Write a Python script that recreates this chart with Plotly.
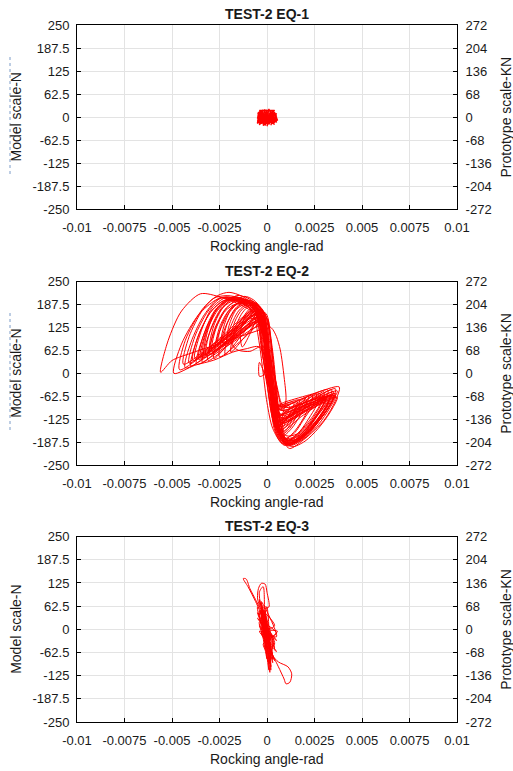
import plotly.graph_objects as go

# ---------------- data ----------------
x_ticks = [-0.01, -0.0075, -0.005, -0.0025, 0, 0.0025, 0.005, 0.0075, 0.01]
x_tick_labels = ["-0.01", "-0.0075", "-0.005", "-0.0025", "0", "0.0025", "0.005", "0.0075", "0.01"]
left_ticks = [250, 187.5, 125, 62.5, 0, -62.5, -125, -187.5, -250]
left_tick_labels = ["250", "187.5", "125", "62.5", "0", "-62.5", "-125", "-187.5", "-250"]
right_ticks = [272, 204, 136, 68, 0, -68, -136, -204, -272]
right_tick_labels = ["272", "204", "136", "68", "0", "-68", "-136", "-204", "-272"]
panel_titles = ["TEST-2 EQ-1", "TEST-2 EQ-2", "TEST-2 EQ-3"]

# EQ-1: small dense cloud around the origin (rocking angle-rad, model scale-N)
eq1 = [(-0.0004, 5), (-0.0003, 18), (-0.0005, -10), (-0.0002, 20), (-0.0004, -22), (-0.0001, 21),
       (-0.0003, -18), (0.0000, 20), (-0.0002, -24), (0.0001, 19), (-0.0001, -22), (0.0002, 18),
       (0.0000, -25), (0.0003, 17), (0.0001, -20), (0.0004, 14), (0.0002, -22), (0.0005, 10),
       (0.0003, -18), (0.00055, -8), (0.0004, 12), (0.0005, -15), (0.0002, 16), (-0.0001, -23),
       (-0.0004, 15), (-0.0005, -5), (-0.00045, 12), (-0.0002, -20), (0.0001, 22), (0.0004, -12),
       (0.0003, 15), (0.0000, -18), (-0.0003, 12), (-0.0005, -18), (-0.0002, 8), (0.0002, -10),
       (0.0005, 5), (0.0002, 8), (-0.0002, -8), (-0.00045, 0), (-0.0005, -15), (0.0005, -12),
       (-0.0005, 10), (0.0005, 8), (-0.0004, -20), (0.0004, 18), (-0.0004, 18), (0.0004, -20),
       (-0.0003, 0), (0.0003, 3), (-0.0001, 14), (0.0001, -14), (0.00052, 2)]

# EQ-2: hysteresis cycles
eq2 = [
    # cycle 1
    (-0.0003, 120), (-0.0020, 90), (-0.0040, 55), (-0.0050, 35), (-0.0056, 3), (-0.0052, 90),
    (-0.0045, 170), (-0.0035, 217), (-0.0024, 207), (-0.0012, 182), (-0.0004, 150), (-0.0001, 70),
    (0.0002, -40), (0.0005, -130), (0.0009, -190), (0.0012, -205), (0.0020, -178), (0.0030, -128),
    (0.0036, -75), (0.0038, -37), (0.0024, -56), (0.0010, -77), (0.0005, -85), (0.0002, -10),
    # cycle 2
    (-0.0004, 72), (-0.0011, 67), (-0.0018, 58), (-0.0028, 36), (-0.0038, 22), (-0.0049, 0),
    (-0.0045, 80), (-0.0036, 160), (-0.0027, 200), (-0.0021, 209), (-0.0013, 195), (-0.0006, 170),
    (-0.0002, 120), (0.0001, 10), (0.0003, -90), (0.0006, -160), (0.0011, -198), (0.0019, -172),
    (0.0028, -125), (0.0034, -78), (0.0036, -42), (0.0020, -80), (0.0005, -115), (0.0000, 30),
    # cycle 3
    (-0.0004, 160), (-0.0025, 85), (-0.0046, 10), (-0.0043, 90), (-0.0034, 175), (-0.0026, 212),
    (-0.0020, 221), (-0.0013, 210), (-0.0007, 185), (-0.0003, 140), (-0.0001, 60), (0.0002, -50),
    (0.0004, -140), (0.0010, -195), (0.0018, -170), (0.0026, -128), (0.0032, -80), (0.0034, -45),
    (0.0019, -90), (0.0005, -130), (0.0001, 40),
    # cycle 4
    (-0.0003, 140), (-0.0023, 75), (-0.0043, 15), (-0.0040, 85), (-0.0033, 160), (-0.0025, 205),
    (-0.0017, 198), (-0.0009, 178), (-0.0005, 150), (0.0000, 50), (0.0003, -60), (0.0006, -150),
    (0.0012, -190), (0.0019, -160), (0.0026, -115), (0.0031, -72), (0.0032, -45), (0.0018, -70),
    (0.0005, -95), (0.0001, -20),
    # cycle 5
    (-0.0005, 170), (-0.0022, 95), (-0.0040, 20), (-0.0037, 90), (-0.0030, 165), (-0.0022, 200),
    (-0.0015, 196), (-0.0008, 175), (-0.0003, 145), (0.0000, 80), (0.0002, -30), (0.0005, -120),
    (0.0007, -170), (0.0009, -188), (0.0016, -165), (0.0024, -118), (0.0029, -75), (0.0030, -50),
    (0.0017, -95), (0.0005, -140), (0.0002, -50),
    # cycle 6
    (-0.0002, 130), (-0.0020, 78), (-0.0037, 25), (-0.0034, 95), (-0.0027, 170), (-0.0018, 205),
    (-0.0011, 200), (-0.0005, 175), (-0.0002, 130), (0.0001, 20), (0.0003, -80), (0.0006, -155),
    (0.0011, -185), (0.0017, -160), (0.0023, -115), (0.0027, -78), (0.0028, -55), (0.0016, -85),
    (0.0005, -115), (0.0002, -30),
    # cycle 7
    (-0.0004, 165), (-0.0019, 98), (-0.0034, 30), (-0.0031, 100), (-0.0024, 175), (-0.0016, 212),
    (-0.0010, 205), (-0.0004, 180), (-0.0001, 120), (0.0001, 0), (0.0004, -100), (0.0007, -165),
    (0.0008, -180), (0.0014, -165), (0.0020, -120), (0.0025, -80), (0.0026, -55), (0.0015, -100),
    (0.0005, -145), (0.0001, 0),
    # cycle 8
    (-0.0003, 150), (-0.0017, 92), (-0.0031, 35), (-0.0028, 110), (-0.0021, 180), (-0.0012, 210),
    (-0.0007, 200), (-0.0003, 175), (0.0000, 100), (0.0002, -20), (0.0004, -110), (0.0007, -160),
    (0.0010, -178), (0.0015, -155), (0.0020, -115), (0.0023, -80), (0.0024, -60), (0.0014, -80),
    (0.0005, -100), (0.0000, 20),
    # cycle 9
    (-0.0005, 175), (-0.0016, 108), (-0.0028, 40), (-0.0026, 100), (-0.0020, 165), (-0.0014, 195),
    (-0.0008, 192), (-0.0004, 170), (-0.0001, 110), (0.0002, 0), (0.0004, -90), (0.0006, -150),
    (0.0008, -172), (0.0013, -150), (0.0018, -110), (0.0021, -80), (0.0022, -62), (0.0013, -105),
    (0.0005, -150), (-0.0001, 30),
    # cycle 10
    (-0.0002, 140), (-0.0013, 92), (-0.0025, 45), (-0.0023, 110), (-0.0017, 175), (-0.0011, 200),
    (-0.0006, 192), (-0.0002, 165), (0.0001, 80), (0.0003, -40), (0.0005, -120), (0.0007, -168),
    (0.0012, -150), (0.0016, -110), (0.0019, -82), (0.0020, -68), (0.0012, -95), (0.0005, -120),
    (0.0002, -40),
    # cycle 11
    (-0.0004, 160), (-0.0013, 106), (-0.0022, 52), (-0.0020, 115), (-0.0015, 170), (-0.0010, 190),
    (-0.0005, 182), (-0.0002, 150), (0.0000, 60), (0.0002, -50), (0.0004, -130), (0.0006, -160),
    (0.0010, -145), (0.0014, -105), (0.0017, -80), (0.0017, -72), (0.0011, -80), (0.0005, -88),
    (0.0001, -10),
    # cycle 12
    (-0.0003, 150), (-0.0011, 104), (-0.0019, 58), (-0.0017, 120), (-0.0013, 165), (-0.0009, 185),
    (-0.0005, 180), (-0.0002, 150), (0.0001, 40), (0.0003, -70), (0.0005, -150), (0.0008, -150),
    (0.0011, -118), (0.0014, -90), (0.0014, -78), (0.0009, -84), (0.0004, -88), (0.0001, 0),
    # cycle 13
    (-0.0003, 72), (-0.0009, 60), (-0.0015, 63), (-0.0018, 75), (-0.0016, 120), (-0.0011, 165),
    (-0.0008, 180), (-0.0004, 172), (-0.0001, 140), (0.0003, 120), (0.0005, 100), (0.0007, 64),
    (0.0009, -10), (0.0010, -73), (0.0008, -120), (0.0009, -160), (0.0012, -140), (0.0015, -95),
    (0.0016, -78), (0.0011, -85), (0.0005, -90), (0.0002, -40),
    # cycle 14
    (-0.0004, 165), (-0.0008, 118), (-0.0013, 72), (-0.0014, 110), (-0.0011, 160), (-0.0007, 178),
    (-0.0004, 170), (-0.0001, 130), (0.0001, 30), (0.0003, -80), (0.0004, -135), (0.0006, -145),
    (0.0009, -120), (0.0012, -95), (0.0011, -86), (0.0006, -92), (0.0003, -60), (-0.0004, 30),
    (-0.0004, -8), (-0.0002, -5), (0.0000, 50),
    # cycle 15
    (-0.0006, 175), (-0.0021, 106), (-0.0036, 38), (-0.0033, 110), (-0.0027, 175), (-0.0020, 200),
    (-0.0013, 194), (-0.0006, 172), (-0.0002, 130), (0.0001, 30), (0.0003, -70), (0.0006, -140),
    (0.0010, -182), (0.0017, -168), (0.0025, -125), (0.0031, -85), (0.0035, -50), (0.0020, -90),
    (0.0006, -125), (0.0000, 20),
    # cycle 16
    (-0.0003, 145), (-0.0018, 96), (-0.0032, 48), (-0.0030, 115), (-0.0024, 178), (-0.0017, 203),
    (-0.0010, 196), (-0.0004, 168), (-0.0001, 100), (0.0002, -10), (0.0004, -100), (0.0007, -160),
    (0.0011, -192), (0.0018, -175), (0.0026, -135), (0.0033, -88), (0.0036, -55), (0.0021, -85),
    (0.0006, -110), (0.0001, -20),
    # cycle 17
    (-0.0005, 150), (-0.0022, 92), (-0.0039, 35), (-0.0036, 105), (-0.0029, 172), (-0.0023, 198),
    (-0.0016, 202), (-0.0008, 185), (-0.0003, 155), (0.0000, 70), (0.0002, -40), (0.0005, -130),
    (0.0008, -180), (0.0013, -196), (0.0021, -170), (0.0029, -118), (0.0035, -70), (0.0037, -48),
    (0.0022, -75), (0.0007, -100), (0.0001, 10),
    # cycle 18
    (-0.0004, 168), (-0.0016, 114), (-0.0029, 60), (-0.0027, 120), (-0.0022, 170), (-0.0016, 190),
    (-0.0009, 188), (-0.0004, 165), (-0.0001, 90), (0.0002, -20), (0.0005, -110), (0.0008, -165),
    (0.0012, -185), (0.0019, -168), (0.0026, -130), (0.0031, -92), (0.0033, -62), (0.0019, -100),
    (0.0006, -140), (0.0000, 0),
    # cycle 19
    (-0.0006, 160), (-0.0019, 105), (-0.0033, 50), (-0.0031, 120), (-0.0026, 180), (-0.0019, 207),
    (-0.0013, 205), (-0.0007, 188), (-0.0003, 160), (0.0000, 90), (0.0002, -10), (0.0004, -100),
    (0.0006, -160), (0.0010, -188), (0.0016, -180), (0.0023, -148), (0.0030, -105), (0.0034, -72),
    (0.0035, -58), (0.0020, -95), (0.0006, -130), (0.0000, 10),
    # cycle 20
    (-0.0003, 155), (-0.0015, 110), (-0.0027, 65), (-0.0025, 125), (-0.0020, 172), (-0.0014, 192),
    (-0.0008, 190), (-0.0004, 172), (-0.0001, 120), (0.0001, 20), (0.0003, -80), (0.0006, -150),
    (0.0009, -178), (0.0015, -172), (0.0022, -140), (0.0028, -98), (0.0031, -68), (0.0018, -110),
    (0.0006, -155), (0.0000, 40),
    # cycle 21
    (-0.0005, 172), (-0.0014, 126), (-0.0023, 80), (-0.0021, 135), (-0.0016, 178), (-0.0011, 195),
    (-0.0006, 190), (-0.0002, 160), (0.0000, 80), (0.0002, -30), (0.0004, -115), (0.0007, -170),
    (0.0013, -200), (0.0020, -185), (0.0027, -150), (0.0033, -108), (0.0037, -65), (0.0022, -100),
    (0.0007, -135), (0.0000, 30),
    # cycle 22
    (-0.0004, 165), (-0.0011, 128), (-0.0019, 90), (-0.0017, 140), (-0.0013, 175), (-0.0008, 188),
    (-0.0004, 180), (-0.0001, 150), (0.0001, 60), (0.0003, -50), (0.0005, -130), (0.0008, -180),
    (0.0012, -190), (0.0018, -180), (0.0024, -150), (0.0029, -110), (0.0032, -80), (0.0029, -68),
    (0.0018, -100), (0.0006, -120), (0.0002, -20), (-0.0002, 100),
    # cycle 23
    (-0.0007, 170), (-0.0024, 100), (-0.0041, 28), (-0.0038, 100), (-0.0031, 170), (-0.0024, 206),
    (-0.0016, 200), (-0.0010, 182), (-0.0007, 160), (-0.0004, 80), (-0.0002, 0), (0.0000, -80),
    (0.0003, -150), (0.0008, -190), (0.0015, -185), (0.0023, -150), (0.0030, -100), (0.0034, -60),
    (0.0020, -88), (0.0008, -115), (0.0003, -60), (0.0000, 20),
    # cycle 24
    (0.0000, 150), (-0.0016, 100), (-0.0030, 52), (-0.0028, 115), (-0.0022, 175), (-0.0015, 200),
    (-0.0009, 195), (-0.0004, 180), (0.0000, 150), (0.0003, 60), (0.0005, -40), (0.0007, -130),
    (0.0010, -180), (0.0017, -178), (0.0025, -140), (0.0031, -95), (0.0033, -70), (0.0020, -92),
    (0.0008, -125), (0.0004, -40), (0.0001, 60),
    # cycle 25
    (-0.0006, 160), (-0.0020, 110), (-0.0035, 45), (-0.0032, 115), (-0.0026, 178), (-0.0018, 208),
    (-0.0011, 200), (-0.0006, 180), (-0.0004, 140), (-0.0002, 60), (0.0001, -30), (0.0003, -120),
    (0.0006, -175), (0.0011, -195), (0.0019, -180), (0.0027, -140), (0.0033, -95), (0.0036, -62),
    (0.0022, -82), (0.0009, -105), (0.0006, -60), (0.0003, 30),
    # cycle 26
    (-0.0001, 165), (-0.0014, 118), (-0.0026, 72), (-0.0024, 130), (-0.0019, 178), (-0.0013, 196),
    (-0.0007, 190), (-0.0002, 170), (0.0001, 120), (0.0003, 40), (0.0005, -60), (0.0007, -140),
    (0.0010, -170), (0.0016, -165), (0.0023, -130), (0.0028, -90), (0.0030, -64), (0.0018, -84),
    (0.0007, -100), (0.0004, -20), (0.0000, 80),
    # cycle 27
    (-0.0007, 150), (-0.0028, 80), (-0.0044, 25), (-0.0041, 100), (-0.0034, 172), (-0.0028, 205),
    (-0.0021, 212), (-0.0014, 205), (-0.0008, 185), (-0.0005, 150), (-0.0003, 70), (0.0000, -20),
    (0.0002, -100), (0.0005, -160), (0.0009, -196), (0.0016, -185), (0.0024, -150), (0.0031, -105),
    (0.0035, -66), (0.0021, -98), (0.0008, -130), (0.0004, -60), (0.0001, 50),
    # cycle 28
    (-0.0005, 178), (-0.0017, 120), (-0.0030, 68), (-0.0028, 130), (-0.0023, 180), (-0.0017, 200),
    (-0.0011, 196), (-0.0005, 178), (-0.0002, 130), (0.0001, 40), (0.0004, -60), (0.0006, -140),
    (0.0009, -180), (0.0014, -183), (0.0021, -155), (0.0027, -112), (0.0031, -78), (0.0017, -112),
    (0.0007, -145), (0.0002, -60), (-0.0002, 40),
    # cycle 29
    (-0.0006, 140), (-0.0020, 92), (-0.0034, 42), (-0.0032, 110), (-0.0026, 172), (-0.0019, 202),
    (-0.0012, 198), (-0.0006, 176), (-0.0003, 130), (0.0000, 30), (0.0003, -70), (0.0005, -150),
    (0.0008, -186), (0.0014, -190), (0.0022, -162), (0.0029, -118), (0.0034, -80), (0.0035, -60),
    (0.0022, -76), (0.0009, -92), (0.0005, -30), (0.0001, 60),
    # cycle 30
    (-0.0003, 170), (-0.0015, 125), (-0.0024, 88), (-0.0022, 140), (-0.0018, 182), (-0.0012, 200),
    (-0.0006, 192), (-0.0002, 168), (0.0001, 100), (0.0003, 0), (0.0005, -90), (0.0007, -155),
    (0.0010, -185), (0.0016, -178), (0.0023, -140), (0.0028, -100), (0.0030, -78), (0.0018, -118),
    (0.0007, -160), (0.0003, -80), (0.0000, 40),
    # cycle 31
    (-0.0006, 168), (-0.0023, 100), (-0.0038, 40), (-0.0035, 110), (-0.0029, 178), (-0.0022, 206),
    (-0.0015, 204), (-0.0009, 188), (-0.0005, 160), (-0.0003, 90), (-0.0001, 0), (0.0002, -90),
    (0.0004, -155), (0.0008, -192), (0.0015, -188), (0.0023, -155), (0.0030, -112), (0.0034, -78),
    (0.0036, -60), (0.0022, -90), (0.0008, -122), (0.0004, -40), (0.0000, 60),
    # cycle 32
    (-0.0002, 155), (-0.0012, 115), (-0.0021, 80), (-0.0020, 130), (-0.0016, 175), (-0.0010, 192),
    (-0.0005, 188), (-0.0001, 162), (0.0002, 90), (0.0004, -10), (0.0006, -100), (0.0008, -160),
    (0.0011, -182), (0.0017, -170), (0.0024, -132), (0.0029, -92), (0.0031, -72), (0.0019, -104),
    (0.0008, -135), (0.0003, -50), (-0.0001, 50),
]

# EQ-3: two excursion loops and a dense core
eq3 = [(-0.0003, 40), (-0.0006, 75), (-0.0010, 115), (-0.00125, 137), (-0.0011, 136), (-0.0009, 110),
       (-0.0006, 80), (-0.0004, 60), (-0.0005, 85), (-0.00045, 110), (-0.0003, 124), (-0.0001, 122),
       (0.0000, 100), (0.0001, 60), (-0.0002, 60), (0.0001, -40), (-0.0003, 40), (0.0002, -60),
       (-0.0001, 50), (0.0003, -90), (-0.0002, 20), (0.0001, -110), (0.0000, -20), (-0.0003, 70),
       (0.0002, -30), (-0.0004, 50), (0.0000, -80), (-0.0002, 30), (0.0003, -70), (-0.0001, 10),
       (0.00015, -116), (0.0001, -60), (-0.0003, 60), (0.0001, 0), (0.00055, -5), (0.0002, -20),
       (-0.0002, 40), (0.0002, -100), (0.0001, -40), (-0.0004, 100), (-0.0002, 115), (-0.0001, 30),
       (0.0003, -70), (0.0006, -88), (0.0011, -101), (0.0013, -120), (0.0012, -143), (0.0010, -147),
       (0.0009, -134), (0.0006, -101), (0.0004, -80), (0.0002, -60), (-0.0003, 50), (0.0000, -50),
       (0.0004, -40), (-0.0001, 20), (-0.0004, 80), (0.0001, -90), (0.0003, -20), (-0.0002, 0),
       (0.0000, 60), (0.0002, -110), (0.0000, -10), (-0.0005, 30), (0.0005, -30), (-0.0004, 10),
       (0.0005, -60), (-0.0003, -10), (0.0004, 10), (-0.0005, 60), (0.0003, -80), (-0.0002, -40),
       (0.0005, -10), (-0.0004, 20), (0.0002, -70), (-0.0001, 40), (0.0004, -50), (-0.0003, 50),
       (0.0002, -100), (-0.0002, 0), (0.0004, -85), (-0.0005, 45), (0.0003, -45), (-0.0004, -5),
       (0.0005, -20), (-0.0003, 75), (0.0001, -20), (-0.0001, 0)]

series = [eq1, eq2, eq3]

# ---------------- layout constants ----------------
W, H = 513, 771
ML, MR, MT, MB = 77, 56, 25, 49
PH = H - MT - MB
domains = [[0.736, 1.0], [0.3687, 0.6317], [0.0, 0.2659]]

FONT = "Liberation Sans, Arial, sans-serif"
TXT = "#1a1a1a"
GRID = "#e3e3e3"

fig = go.Figure()

for i, pts in enumerate(series):
    xs = [p[0] for p in pts]
    ys = [p[1] for p in pts]
    xa = "x" if i == 0 else f"x{i+1}"
    ya = "y" if i == 0 else f"y{i+1}"
    shape = "linear" if i == 0 else "spline"
    fig.add_trace(go.Scatter(x=xs, y=ys, mode="lines", xaxis=xa, yaxis=ya,
                             line=dict(color="#ff0000", width=1.3 if i == 0 else 1.0,
                                       shape=shape, smoothing=0.8),
                             showlegend=False, hoverinfo="skip"))
    # right-hand axis (prototype scale) registration
    fig.add_trace(go.Scatter(x=[None], y=[None], mode="lines", xaxis=xa, yaxis=f"y{i+4}",
                             showlegend=False, hoverinfo="skip"))

common_axis = dict(showline=True, linecolor="black", linewidth=1, ticks="inside", ticklen=4,
                   tickcolor="black", zeroline=False,
                   tickfont=dict(family=FONT, size=13, color=TXT))

layout = dict(width=W, height=H, margin=dict(l=ML, r=MR, t=MT, b=MB),
              paper_bgcolor="white", plot_bgcolor="white", showlegend=False,
              annotations=[], shapes=[])

for i in range(3):
    sfx = "" if i == 0 else str(i + 1)
    layout[f"xaxis{sfx}"] = dict(common_axis, domain=[0, 1], anchor=f"y{sfx}", range=[-0.01, 0.01],
                                 tickvals=x_ticks, ticktext=x_tick_labels, showgrid=True,
                                 gridcolor=GRID, gridwidth=1, mirror=True, ticklabelstandoff=6)
    layout[f"yaxis{sfx}"] = dict(common_axis, domain=domains[i], anchor=f"x{sfx}", range=[-250, 250],
                                 tickvals=left_ticks, ticktext=left_tick_labels, showgrid=True,
                                 gridcolor=GRID, gridwidth=1, ticklabelstandoff=4)
    layout[f"yaxis{i+4}"] = dict(common_axis, overlaying=f"y{sfx}", anchor=f"x{sfx}", side="right",
                                 range=[-272, 272], tickvals=right_ticks, ticktext=right_tick_labels,
                                 showgrid=False, ticklabelstandoff=5)

    top_px = MT + (1 - domains[i][1]) * PH
    bot_px = MT + (1 - domains[i][0]) * PH
    mid = (domains[i][0] + domains[i][1]) / 2

    def py(px):
        return 1 - (px - MT) / PH

    layout["annotations"].append(dict(text=f"<b>{panel_titles[i]}</b>", xref="paper", yref="paper",
                                      x=0.5, y=py(top_px - 11), showarrow=False,
                                      font=dict(family=FONT, size=14, color=TXT),
                                      xanchor="center", yanchor="middle"))
    layout["annotations"].append(dict(text="Rocking angle-rad", xref="paper", yref="paper",
                                      x=0.5, y=py(bot_px + 37), showarrow=False,
                                      font=dict(family=FONT, size=14, color=TXT),
                                      xanchor="center", yanchor="middle"))
    layout["annotations"].append(dict(text="Model scale-N", xref="paper", yref="paper",
                                      x=(16.5 - ML) / (W - ML - MR), y=mid, showarrow=False,
                                      textangle=-90,
                                      font=dict(family=FONT, size=14, color=TXT),
                                      xanchor="center", yanchor="middle"))
    layout["annotations"].append(dict(text="Prototype scale-KN", xref="paper", yref="paper",
                                      x=(506.5 - ML) / (W - ML - MR), y=mid, showarrow=False,
                                      textangle=-90,
                                      font=dict(family=FONT, size=14, color=TXT),
                                      xanchor="center", yanchor="middle"))

# faint dotted marks at the far left (present in the original figure)
for (y0, y1) in [(57, 177), (313, 433)]:
    layout["shapes"].append(dict(type="line", xref="paper", yref="paper",
                                 x0=(10 - ML) / (W - ML - MR), x1=(10 - ML) / (W - ML - MR),
                                 y0=1 - (y0 - MT) / PH, y1=1 - (y1 - MT) / PH,
                                 line=dict(color="#7d9cc8", width=1, dash="dot")))

fig.update_layout(**layout)
fig.write_html("out.html")
